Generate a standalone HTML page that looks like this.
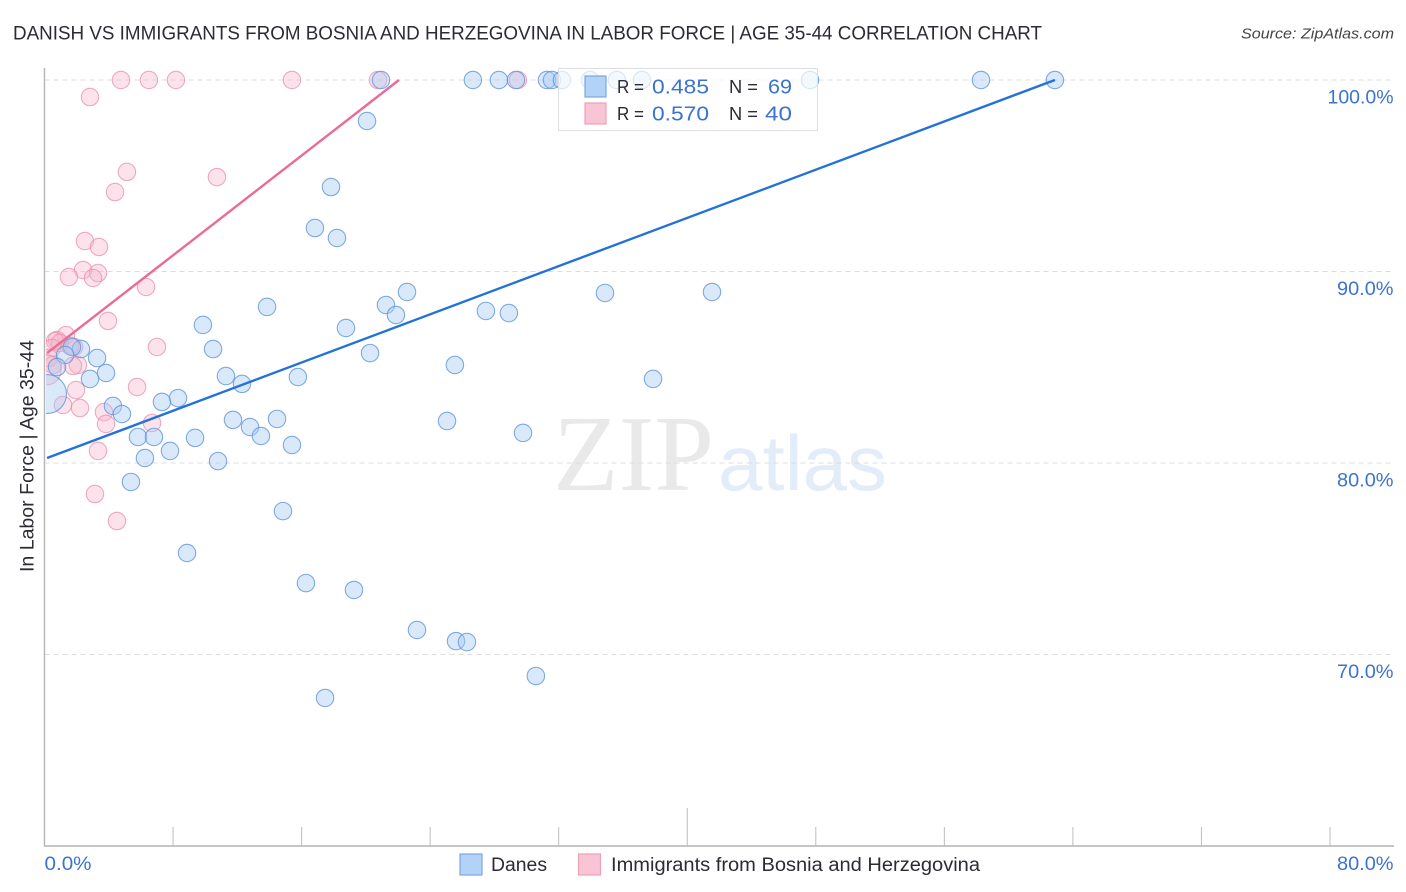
<!DOCTYPE html>
<html lang="en">
<head>
<meta charset="utf-8">
<title>Danish vs Immigrants from Bosnia and Herzegovina Correlation Chart</title>
<style>
html,body{margin:0;padding:0;background:#fff;}
svg{display:block;font-family:"Liberation Sans",Arial,sans-serif;}
</style>
</head>
<body>
<svg id="chart" xmlns="http://www.w3.org/2000/svg" width="1406" height="892" viewBox="0 0 1406 892">
  <defs><clipPath id="plot-clip"><rect x="46" y="60" width="1350" height="786"/></clipPath></defs>
  <rect x="0" y="0" width="1406" height="892" fill="#ffffff"/>
  <text x="13" y="39.5" font-size="19" fill="#2b2b33" textLength="1029" lengthAdjust="spacingAndGlyphs">DANISH VS IMMIGRANTS FROM BOSNIA AND HERZEGOVINA IN LABOR FORCE | AGE 35-44 CORRELATION CHART</text>
  <text x="1241" y="38.5" font-size="15" font-style="italic" fill="#444" textLength="153" lengthAdjust="spacingAndGlyphs">Source: ZipAtlas.com</text>
  <text x="553" y="490" font-size="108" fill="#e9e9e9" style="font-family:'Liberation Serif',serif" textLength="161" lengthAdjust="spacingAndGlyphs">ZIP</text>
  <text x="718" y="490" font-size="78" fill="#e3ecf9" style="font-family:'Liberation Sans',sans-serif" textLength="169" lengthAdjust="spacingAndGlyphs">atlas</text>
  <g id="grid"></g>
  <g id="axes"></g>
  <g id="points" clip-path="url(#plot-clip)"></g>
  <g id="trends"></g>
  <g>
    <rect x="558.5" y="68.5" width="259" height="62" fill="#ffffff" fill-opacity="0.7" stroke="#dcdfe8" stroke-width="1"/>
    <rect x="585" y="76" width="21" height="21" fill="#b3d2f7" stroke="#7ba7df" stroke-width="1.2"/>
    <rect x="585" y="103" width="21" height="21" fill="#f9c5d5" stroke="#ee9fb9" stroke-width="1.2"/>
    <text x="617" y="93" font-size="18.5" fill="#2b2b33" textLength="27" lengthAdjust="spacingAndGlyphs">R =</text>
    <text x="652" y="93.5" font-size="20.5" fill="#3b73d1" textLength="57" lengthAdjust="spacingAndGlyphs">0.485</text>
    <text x="729" y="93" font-size="18.5" fill="#2b2b33" textLength="29" lengthAdjust="spacingAndGlyphs">N =</text>
    <text x="768" y="93.5" font-size="20.5" fill="#3b73d1" textLength="24" lengthAdjust="spacingAndGlyphs">69</text>
    <text x="617" y="120" font-size="18.5" fill="#2b2b33" textLength="27" lengthAdjust="spacingAndGlyphs">R =</text>
    <text x="652" y="120.5" font-size="20.5" fill="#3b73d1" textLength="57" lengthAdjust="spacingAndGlyphs">0.570</text>
    <text x="729" y="120" font-size="18.5" fill="#2b2b33" textLength="29" lengthAdjust="spacingAndGlyphs">N =</text>
    <text x="765" y="120.5" font-size="20.5" fill="#3b73d1" textLength="27" lengthAdjust="spacingAndGlyphs">40</text>
  </g>
  <text transform="translate(33.5,572) rotate(-90)" font-size="19" fill="#2b2b33" textLength="232" lengthAdjust="spacingAndGlyphs">In Labor Force | Age 35-44</text>
  <g>
    <rect x="460" y="854" width="22" height="21" fill="#b3d2f7" stroke="#7ba7df" stroke-width="1.2"/>
    <text x="491" y="871" font-size="19" fill="#2b2b33" textLength="56" lengthAdjust="spacingAndGlyphs">Danes</text>
    <rect x="578.5" y="854" width="22" height="21" fill="#f9c5d5" stroke="#ee9fb9" stroke-width="1.2"/>
    <text x="611" y="871" font-size="19" fill="#2b2b33" textLength="369" lengthAdjust="spacingAndGlyphs">Immigrants from Bosnia and Herzegovina</text>
  </g>
</svg>
<script>
var danesX = [20.94,26.66,28.28,29.34,31.27,31.58,32.2,33.95,35.62,37.18,47.64,58.28,62.88,20.07,17.83,16.83,18.2,22.56,21.25,21.87,13.85,9.86,10.49,18.76,20.26,27.47,28.9,34.88,41.54,37.87,25.54,25.05,29.78,11.29,15.77,12.29,8.31,7.31,4.26,4.82,5.82,6.81,9.37,11.73,12.79,13.47,14.47,15.4,6.25,7.81,10.8,5.38,14.84,8.87,16.27,19.26,23.18,25.61,26.29,30.58,17.46,3.27,3.83,2.83,2.27,1.71,1.28,0.78,0.16];
var danesY = [100,100,100,100,100,100,100,100,100,100,100,100,100,97.86,94.41,92.27,91.75,88.93,88.25,87.73,88.15,87.21,85.95,87.05,85.74,87.94,87.83,88.88,88.93,84.39,85.12,82.19,81.57,84.54,84.49,84.13,83.39,83.19,82.98,82.56,81.36,81.36,81.31,82.25,81.88,81.41,82.3,80.94,80.26,80.63,80.1,79.01,77.49,75.3,73.73,73.37,71.28,70.7,70.65,68.88,67.73,85.48,84.7,84.39,85.95,86.06,85.64,85.01,83.6];
var danesWeight = [1,1,1,1,1,1,1,1,1,1,1,1,1,1,1,1,1,1,1,1,1,1,1,1,1,1,1,1,1,1,1,1,1,1,1,1,1,1,1,1,1,1,1,1,1,1,1,1,1,1,1,1,1,1,1,1,1,1,1,1,1,1,1,1,1,1,1,1,5];
var immigrantsX = [4.76,6.5,8.18,15.4,20.75,29.46,2.83,5.13,4.39,10.73,2.52,3.39,2.4,3.33,3.02,1.52,6.32,3.95,7.0,1.34,0.78,0.65,0.96,1.84,1.59,0.47,0.28,2.08,1.77,0.53,0.1,1.96,5.76,1.15,2.21,3.7,3.83,6.69,3.33,3.14,4.51];
var immigrantsY = [100,100,100,100,100,100,99.11,95.2,94.15,94.93,91.59,91.28,90.08,89.92,89.66,89.71,89.19,87.42,86.06,86.68,86.42,86.37,86.27,86.06,86.11,86.01,85.48,85.12,85.07,85.12,84.86,83.81,83.97,83.03,82.87,82.66,82.04,82.09,80.63,78.38,76.97];
var immigrantsWeight = [1,1,1,1,1,1,1,1,1,1,1,1,1,1,1,1,1,1,1,1,1,1,1,1,1,1,1,1,1,1,3,1,1,1,1,1,1,1,1,1,1];
var danesTrendX = [0.16,62.88];
var danesTrendY = [80.26,100];
var immigrantsTrendX = [0.16,22.06];
var immigrantsTrendY = [85.74,100];
var yTicks = [100,90,80,70];
var yTickLabels = ["100.0%","90.0%","80.0%","70.0%"];
var xTicks = [0,8,16,24,32,40,48,56,64,72,80];
var xMajorTicks = [40];
var xEndTicks = [0,80];
var xEndLabels = ["0.0%","80.0%"];

var NS = 'http://www.w3.org/2000/svg';
function sx(v){ return 44.5 + v * (1330 - 44.5) / 80; }
function sy(v){ return 80 + (100 - v) * (846 - 80) / 40; }
function labelWidth(s){ return 9.5 * s.length + 9; }
function mk(tag, parent, attrs){
  var el = document.createElementNS(NS, tag);
  for (var k in attrs) el.setAttribute(k, attrs[k]);
  parent.appendChild(el);
  return el;
}
var grid = document.getElementById('grid');
var axes = document.getElementById('axes');
var pts = document.getElementById('points');
var trends = document.getElementById('trends');

yTicks.forEach(function(t, i){
  var g = mk('line', grid, {x1:44.5, x2:1394, y1:sy(t), y2:sy(t), stroke:'#dcdcdc', 'stroke-width':1, 'stroke-dasharray':'5 4'});
  
  
  var w = labelWidth(yTickLabels[i]);
  var l = mk('text', axes, {x:1393.5 - w, y:sy(t) + 23.5, 'font-size':19.5, fill:'#3b73d1', textLength:w, lengthAdjust:'spacingAndGlyphs'});
  
  
  l.textContent = yTickLabels[i];
});

var yAxis = mk('line', axes, {x1:44.5, x2:44.5, y1:68, y2:846, stroke:'#b4b4b4', 'stroke-width':1.4});


var xAxis = mk('line', axes, {x1:44, x2:1394, y1:846, y2:846, stroke:'#b4b4b4', 'stroke-width':1.4});



xTicks.forEach(function(t){
  if (t === 0) return;
  var top = xMajorTicks.indexOf(t) >= 0 ? 808 : 827;
  var k = mk('line', axes, {x1:sx(t), x2:sx(t), y1:top, y2:846, stroke:'#bdbdbd', 'stroke-width':1});
  
  
});
xEndTicks.forEach(function(t, i){
  var w = labelWidth(xEndLabels[i]);
  var l = mk('text', axes, {x: i === 0 ? sx(t) : 1393.5 - w, y:870, 'font-size':19.5, fill:'#3b73d1', textLength:w, lengthAdjust:'spacingAndGlyphs'});
  
  
  l.textContent = xEndLabels[i];
});

immigrantsX.forEach(function(v, i){
  var c = mk('circle', pts, {cx:sx(v), cy:sy(immigrantsY[i]), r:8.7 * Math.sqrt(immigrantsWeight[i]), fill:'#f7b5ca', 'fill-opacity':0.38, stroke:'#ea8fae', 'stroke-opacity':0.75, 'stroke-width':1.1});
  
  
});
danesX.forEach(function(v, i){
  var c = mk('circle', pts, {cx:sx(v), cy:sy(danesY[i]), r:8.7 * Math.sqrt(danesWeight[i]), fill:'#a8cbf3', 'fill-opacity':0.42, stroke:'#5f96dc', 'stroke-opacity':0.8, 'stroke-width':1.1});
  
  
});

var tb = mk('line', trends, {x1:sx(danesTrendX[0]), y1:sy(danesTrendY[0]), x2:sx(danesTrendX[1]), y2:sy(danesTrendY[1]), stroke:'#2472d8', 'stroke-width':2.4});


var tp = mk('line', trends, {x1:sx(immigrantsTrendX[0]), y1:sy(immigrantsTrendY[0]), x2:sx(immigrantsTrendX[1]), y2:sy(immigrantsTrendY[1]), stroke:'#ec6a96', 'stroke-width':2.4});


</script>
</body>
</html>
